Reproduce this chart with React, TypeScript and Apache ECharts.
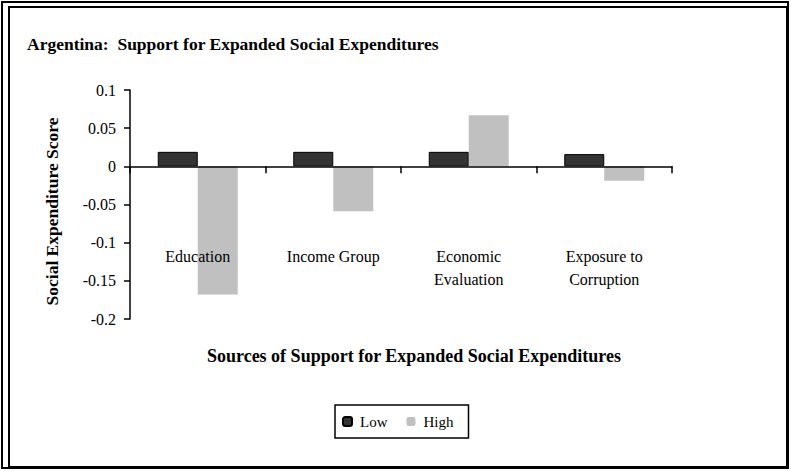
import React, { useEffect, useRef } from "react";
import * as echarts from "echarts";

const categories = ["Education", "Income Group", "Economic\nEvaluation", "Exposure to\nCorruption"];
const lowValues = [0.019, 0.019, 0.019, 0.016];
const highValues = [-0.168, -0.059, 0.067, -0.019];
const seriesNames = ["Low", "High"];
const yTicks = { min: -0.2, max: 0.1, interval: 0.05 };

const FONT = "'Liberation Serif', 'Times New Roman', serif";

export default function App() {
  const ref = useRef<HTMLDivElement>(null);
  useEffect(() => {
    if (!ref.current) return;
    const chart = echarts.init(ref.current, null, { renderer: "svg" });
    chart.setOption({
      animation: false,
      backgroundColor: "#ffffff",
      textStyle: { fontFamily: FONT, color: "#000" },
      title: {
        text: "Argentina:  Support for Expanded Social Expenditures",
        left: 27,
        top: 35,
        padding: 0,
        textStyle: { fontFamily: FONT, fontSize: 17.5, fontWeight: "bold", color: "#000" },
      },
      graphic: [
        { type: "rect", shape: { x: 2, y: 2, width: 786, height: 466 }, style: { fill: "none", stroke: "#000", lineWidth: 2 } },
        { type: "rect", shape: { x: 9, y: 7, width: 778, height: 460 }, style: { fill: "none", stroke: "#000", lineWidth: 2 } },
      ],
      legend: {
        data: seriesNames,
        left: 335,
        top: 405,
        padding: [9, 15, 9, 7],
        borderColor: "#000",
        borderWidth: 1.5,
        itemWidth: 9,
        itemHeight: 9,
        itemGap: 19,
        textStyle: { fontFamily: FONT, fontSize: 15, color: "#000", padding: [0, 0, 0, 3] },
      },
      grid: { left: 130, right: 119, top: 90, bottom: 152, containLabel: false, outerBoundsMode: "none" },
      xAxis: {
        type: "category",
        data: categories,
        z: 10,
        axisLine: { onZero: true, lineStyle: { color: "#000", width: 1.5 } },
        axisTick: { show: true, alignWithLabel: false, length: 7, lineStyle: { color: "#000", width: 1.5 } },
        axisLabel: {
          margin: -74,
          fontFamily: FONT,
          fontSize: 16,
          color: "#000",
          lineHeight: 23,
          interval: 0,
        },
        name: "Sources of Support for Expanded Social Expenditures",
        nameLocation: "middle",
        nameGap: 28,
        nameMoveOverlap: false,
        nameTextStyle: { fontFamily: FONT, fontSize: 18, fontWeight: "bold", color: "#000", padding: [0, 0, 0, 26] },
      },
      yAxis: {
        type: "value",
        min: yTicks.min,
        max: yTicks.max,
        interval: yTicks.interval,
        splitLine: { show: false },
        axisLine: { show: true, lineStyle: { color: "#000", width: 1.5 } },
        axisTick: { show: true, length: 6, lineStyle: { color: "#000", width: 1.5 } },
        axisLabel: {
          fontFamily: FONT,
          fontSize: 16,
          color: "#000",
          margin: 14,
          formatter: (v: number) => String(parseFloat(v.toFixed(3))),
        },
        name: "Social Expenditure Score",
        nameLocation: "middle",
        nameGap: 69,
        nameMoveOverlap: false,
        nameTextStyle: { fontFamily: FONT, fontSize: 17.5, fontWeight: "bold", color: "#000", padding: [0, 14, 0, 0] },
      },
      series: [
        {
          name: seriesNames[0],
          type: "bar",
          data: lowValues,
          barWidth: 40,
          barGap: "0%",
          itemStyle: { color: "#333333", borderColor: "#000", borderWidth: 1 },
        },
        {
          name: seriesNames[1],
          type: "bar",
          data: highValues,
          barWidth: 40,
          barGap: "0%",
          itemStyle: { color: "#c0c0c0" },
        },
      ],
    });
    return () => chart.dispose();
  }, []);
  return <div ref={ref} style={{ width: 791, height: 471, position: "absolute", left: 0, top: 0 }} />;
}
